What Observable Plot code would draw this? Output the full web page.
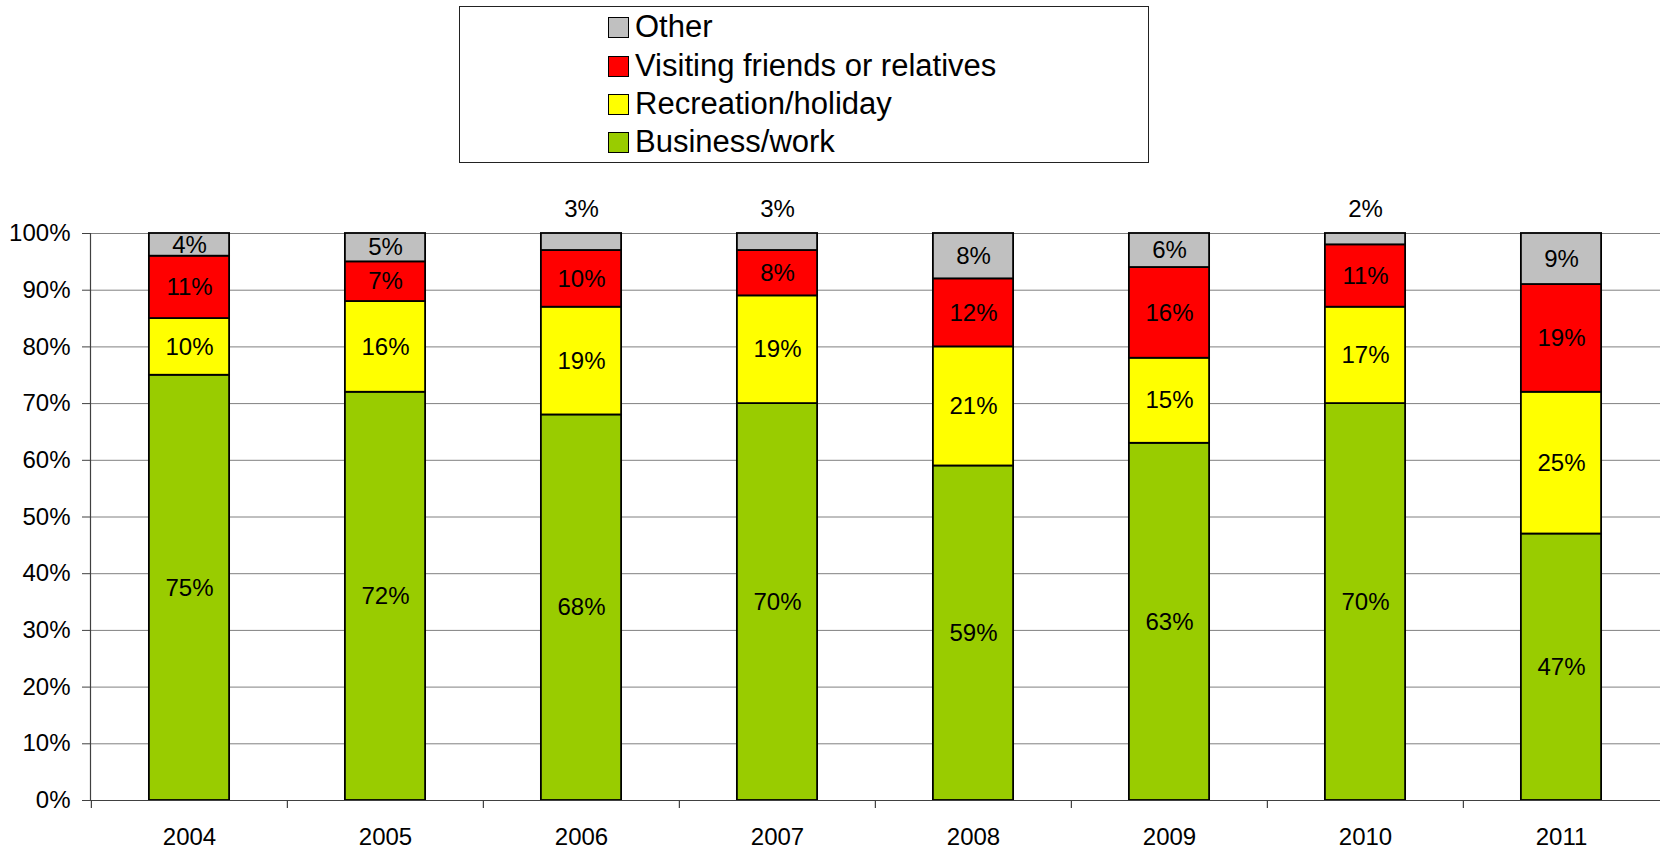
<!DOCTYPE html>
<html>
<head>
<meta charset="utf-8">
<script src="https://cdn.jsdelivr.net/npm/d3@7"></script>
<script src="https://cdn.jsdelivr.net/npm/@observablehq/plot@0.6"></script>
<style>
  html, body { margin: 0; padding: 0; background: #fff; }
  #wrap { position: relative; width: 1660px; height: 851px; overflow: hidden; font-family: "Liberation Sans", Arial, sans-serif; }
  #chart { position: absolute; left: 0; top: 0; }
  #legend { position: absolute; left: 459px; top: 6px; width: 690px; height: 157px; border: 1px solid #222; background: #fff; box-sizing: border-box; }
  .item { position: absolute; left: 148px; height: 34px; display: flex; align-items: center; font-size: 31px; color: #000; white-space: nowrap; }
  .sw { width: 21px; height: 21px; border: 1.5px solid #000; margin-right: 6px; box-sizing: border-box; flex: none; }
</style>
</head>
<body>
<div id="wrap">
  <div id="chart"></div>
  <div id="legend"></div>
</div>
<script>
const years = ["2004", "2005", "2006", "2007", "2008", "2009", "2010", "2011"];
const categories = ["Business/work", "Recreation/holiday", "Visiting friends or relatives", "Other"];
const business   = [75, 72, 68, 70, 59, 63, 70, 47];
const recreation = [10, 16, 19, 19, 21, 15, 17, 25];
const visiting   = [11, 7, 10, 8, 12, 16, 11, 19];
const other      = [4, 5, 3, 3, 8, 6, 2, 9];
const colors = ["#99CC00", "#FFFF00", "#FF0000", "#C0C0C0"];
const yTicks = [0, 10, 20, 30, 40, 50, 60, 70, 80, 90, 100];

const series = [business, recreation, visiting, other];
const data = [];
years.forEach((yr, i) => {
  categories.forEach((c, j) => data.push({year: yr, category: c, value: series[j][i]}));
});
const totals = years.map((yr, i) => series.reduce((s, a) => s + a[i], 0));
const smallLabels = data.filter(d => d.category === "Other" && d.value < 4)
  .map(d => ({...d, total: totals[years.indexOf(d.year)]}));

const W = 1660, mL = 90, mR = 0;
const step = (W - mL - mR) / years.length;

const chart = Plot.plot({
  width: W,
  height: 851,
  marginTop: 233,
  marginBottom: 51,
  marginLeft: mL,
  marginRight: mR,
  x: {domain: years, padding: 0, label: null},
  y: {domain: [0, 100], label: null},
  color: {domain: categories, range: colors},
  style: {fontFamily: "'Liberation Sans', Arial, sans-serif", fontSize: "24px", color: "#000", background: "transparent", overflow: "visible"},
  marks: [
    Plot.ruleY(yTicks, {stroke: "#808080", strokeWidth: 1}),
    Plot.barY(data, {x: "year", y: "value", fill: "category", order: categories, stroke: "#000", strokeWidth: 1.8, insetLeft: step * 0.295, insetRight: step * 0.295}),
    Plot.text(data, Plot.stackY({x: "year", y: "value", z: "category", order: categories, text: d => d.value >= 4 ? d.value + "%" : "", fontSize: 24, fill: "#000"})),
    Plot.text(smallLabels, {x: "year", y: "total", text: d => d.value + "%", dy: -24, fontSize: 24, fill: "#000"}),
    Plot.ruleY([0], {stroke: "#404040", strokeWidth: 1.2}),
    Plot.ruleX(years, {x: d => d, dx: -step / 2, y1: 0, y2: 0, insetBottom: -8, stroke: "#404040", strokeWidth: 1.2}),
    Plot.frame({anchor: "left", stroke: "#404040", strokeWidth: 1.2}),
    Plot.axisY(yTicks, {tickFormat: d => d + "%", tickSize: 8, tickPadding: 12, fontSize: 24, stroke: "#404040", label: null}),
    Plot.axisX({tickSize: 0, tickPadding: 27, fontSize: 24, label: null})
  ]
});
document.getElementById("chart").appendChild(chart);

// Legend (top to bottom: Other, Visiting, Recreation, Business)
const legend = document.getElementById("legend");
const legendOrder = categories.slice().reverse();
const rowCenters = [20, 59, 97, 135];
legendOrder.forEach((c, k) => {
  const item = document.createElement("div");
  item.className = "item";
  item.style.top = (rowCenters[k] - 17) + "px";
  const sw = document.createElement("span");
  sw.className = "sw";
  sw.style.background = colors[categories.indexOf(c)];
  const t = document.createElement("span");
  t.textContent = c;
  item.appendChild(sw);
  item.appendChild(t);
  legend.appendChild(item);
});
</script>
</body>
</html>
